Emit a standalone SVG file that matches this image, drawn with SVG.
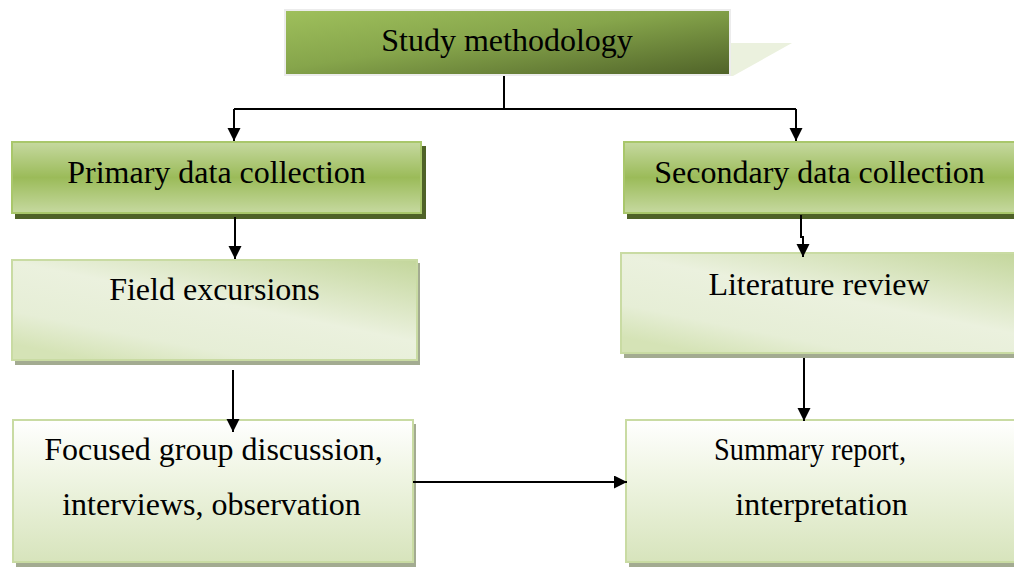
<svg xmlns="http://www.w3.org/2000/svg" width="1014" height="570" viewBox="0 0 1014 570">
<defs>
<linearGradient id="gDark" x1="0" y1="0" x2="1" y2="1">
<stop offset="0" stop-color="#9fc05c"/>
<stop offset="0.45" stop-color="#86a54b"/>
<stop offset="1" stop-color="#4f6228"/>
</linearGradient>
<linearGradient id="gMid" x1="0" y1="0" x2="0" y2="1">
<stop offset="0" stop-color="#c6d9a0"/>
<stop offset="0.5" stop-color="#9bbb59"/>
<stop offset="1" stop-color="#c6d9a0"/>
</linearGradient>
<linearGradient id="gLight" x1="1" y1="0" x2="0.2" y2="1">
<stop offset="0" stop-color="#c3d69b"/>
<stop offset="0.5" stop-color="#ebf1de"/>
<stop offset="0.8" stop-color="#e6eed6"/>
<stop offset="1" stop-color="#d5e3b6"/>
</linearGradient>
<linearGradient id="gPale" x1="0" y1="0" x2="0" y2="1">
<stop offset="0" stop-color="#ffffff"/>
<stop offset="0.35" stop-color="#f1f6e6"/>
<stop offset="1" stop-color="#d7e4bc"/>
</linearGradient>
<marker id="arr" markerUnits="userSpaceOnUse" markerWidth="14" markerHeight="14" refX="13" refY="6.5" orient="auto">
<path d="M0,0 L13,6.5 L0,13 z" fill="#000"/>
</marker>
<style>
text{font-family:"Liberation Serif","Times New Roman",serif;font-size:32px;fill:#000;text-anchor:middle}
.conn path{stroke:#000;stroke-width:2;fill:none}
.mid{fill:url(#gMid);stroke:#a9c76b;stroke-width:2}
.light{fill:url(#gLight);stroke:#c9dba3;stroke-width:2}
.pale{fill:url(#gPale);stroke:#c9dba3;stroke-width:2}
.shD{fill:#4f6228}
.shG{fill:#a3ab91}
</style>
</defs>
<rect width="1014" height="570" fill="#fff"/>

<g id="study">
<polygon points="731,43 792,43 733,76 731,76" fill="#ebf1de"/>
<rect x="285" y="10" width="445" height="65" fill="url(#gDark)" stroke="#ececec" stroke-width="2"/>
<text x="507" y="51">Study methodology</text>
</g>

<g id="primary">
<rect x="15" y="146" width="411" height="73" class="shD"/>
<rect x="12" y="142" width="409" height="71" class="mid"/>
<text x="216.5" y="183">Primary data collection</text>
</g>

<g id="secondary">
<rect x="627" y="146" width="400" height="73" class="shD"/>
<rect x="624" y="142" width="396" height="71" class="mid"/>
<text x="819.5" y="183">Secondary data collection</text>
</g>

<g id="field">
<rect x="15" y="263" width="405" height="102" class="shG"/>
<rect x="12" y="260" width="405" height="100" class="light"/>
<text x="214.5" y="300">Field excursions</text>
</g>

<g id="literature">
<rect x="624" y="256" width="400" height="102" class="shG"/>
<rect x="621" y="253" width="400" height="100" class="light"/>
<text x="819" y="295">Literature review</text>
</g>

<g id="focused">
<rect x="16" y="424" width="400" height="143" class="shG"/>
<rect x="13" y="420" width="400" height="142" class="pale"/>
<text x="213.5" y="460">Focused group discussion,</text>
<text x="211.5" y="515">interviews, observation</text>
</g>

<g id="summary">
<rect x="629" y="424" width="400" height="143" class="shG"/>
<rect x="626" y="420" width="400" height="142" class="pale"/>
<text x="810" y="460" textLength="192" lengthAdjust="spacingAndGlyphs">Summary report,</text>
<text x="821.5" y="515">interpretation</text>
</g>

<g class="conn" id="connectors">
<path d="M504,76 V109"/>
<path d="M234,109 H796"/>
<path d="M234,109 V141" marker-end="url(#arr)"/>
<path d="M796,109 V141" marker-end="url(#arr)"/>
<path d="M235,217 V259" marker-end="url(#arr)"/>
<path d="M233,370 V432" marker-end="url(#arr)"/>
<path d="M801,215 V237 H803 V257" marker-end="url(#arr)"/>
<path d="M804,358 V421" marker-end="url(#arr)"/>
<path d="M413,482 H627" marker-end="url(#arr)"/>
</g>
</svg>
